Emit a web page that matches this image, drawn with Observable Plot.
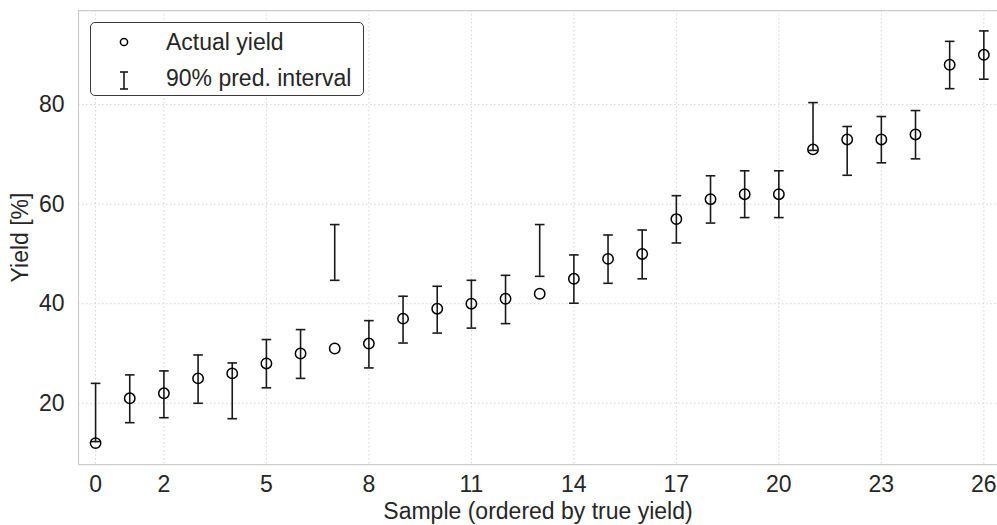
<!DOCTYPE html>
<html>
<head>
<meta charset="utf-8">
<script src="https://cdn.jsdelivr.net/npm/d3@7"></script>
<script src="https://cdn.jsdelivr.net/npm/@observablehq/plot@0.6"></script>
<style>
html, body { margin: 0; padding: 0; background: #fff; overflow: hidden; }
#wrap { position: relative; width: 997px; height: 525px; }
.legend { position: absolute; left: 90px; top: 22px; width: 272px; height: 72px;
  border: 1px solid #3a3a3a; border-radius: 5px; background: rgba(255,255,255,0.85);
  font-family: "Liberation Sans", Arial, sans-serif; font-size: 23px; color: #262626; }
.legend span { position: absolute; left: 75px; line-height: 26px; white-space: nowrap; }
.legend svg { position: absolute; left: 0; top: 0; }
</style>
</head>
<body>
<div id="wrap"></div>
<script>
// Sample index (ordered by true yield)
const sample = [0,1,2,3,4,5,6,7,8,9,10,11,12,13,14,15,16,17,18,19,20,21,22,23,24,25,26];
// Actual yield [%]
const actual = [12,21,22,25,26,28,30,31,32,37,39,40,41,42,45,49,50,57,61,62,62,71,73,73,74,88,90];
// 90% prediction interval bounds
const lower = [12.3,16.1,17.1,20.0,16.9,23.1,25.0,44.7,27.1,32.1,34.1,35.1,36.0,45.5,40.1,44.1,45.0,52.2,56.2,57.3,57.3,70.8,65.8,68.3,69.1,83.2,85.1];
const upper = [24.0,25.7,26.5,29.7,28.1,32.8,34.8,55.9,36.6,41.5,43.5,44.7,45.7,55.9,49.8,53.8,54.8,61.7,65.7,66.7,66.7,80.4,75.6,77.6,78.8,92.7,94.8];
// Tick values
const xTicks = [0,2,5,8,11,14,17,20,23,26];
const yTicks = [20,40,60,80];
const xDomain = [-0.5, 26.4];
const yDomain = [7.7, 98.9];

const data = sample.map((s, i) => ({s, a: actual[i], lo: lower[i], hi: upper[i]}));

const hline = { draw(ctx, size) { const r = Math.sqrt(size / Math.PI); ctx.moveTo(-r, 0); ctx.lineTo(r, 0); } };

const grid = {stroke: "#cfcfcf", strokeDasharray: "1.5,2.5", strokeWidth: 0.9};
const spine = {stroke: "#cccccc", strokeWidth: 1.25};
const bar = {stroke: "#1a1a1a", strokeWidth: 1.6};
const FONT = "'Liberation Sans', Arial, sans-serif";

const chart = Plot.plot({
  width: 997, height: 525,
  marginLeft: 78, marginRight: 0, marginTop: 10, marginBottom: 61,
  style: {fontFamily: FONT, fontSize: "23px", color: "#262626", background: "#fff"},
  x: {domain: xDomain, ticks: xTicks, tickSize: 0, tickPadding: 11, label: null},
  y: {domain: yDomain, ticks: yTicks, tickSize: 0, tickPadding: 14, label: null},
  marks: [
    Plot.ruleX(xTicks, grid),
    Plot.ruleY(yTicks, grid),
    Plot.ruleY([yDomain[0]], spine),
    Plot.ruleY([yDomain[1]], spine),
    Plot.ruleX([xDomain[0]], spine),
    Plot.ruleX(data, {x: "s", y1: "lo", y2: "hi", ...bar}),
    Plot.dot(data, {x: "s", y: "lo", symbol: hline, r: 4.8, fill: "none", ...bar}),
    Plot.dot(data, {x: "s", y: "hi", symbol: hline, r: 4.8, fill: "none", ...bar}),
    Plot.dot(data, {x: "s", y: "a", r: 5.2, stroke: "#000", strokeWidth: 1.5, fill: "none"}),
    Plot.text(["Sample (ordered by true yield)"], {frameAnchor: "bottom", dy: 54, text: d => d, fontSize: 23, fill: "#262626", textAnchor: "middle"}),
    Plot.text(["Yield [%]"], {frameAnchor: "left", dx: -58, rotate: -90, text: d => d, fontSize: 23, fill: "#262626", textAnchor: "middle"})
  ]
});

const wrap = document.getElementById("wrap");
wrap.appendChild(chart);

const legend = document.createElement("div");
legend.className = "legend";
legend.innerHTML = `
<svg width="272" height="72">
  <circle cx="33" cy="19" r="3.6" fill="none" stroke="#000" stroke-width="1.5"/>
  <line x1="33" x2="33" y1="49" y2="66" stroke="#1a1a1a" stroke-width="1.6"/>
  <line x1="29" x2="37" y1="49" y2="49" stroke="#1a1a1a" stroke-width="1.6"/>
  <line x1="29" x2="37" y1="66" y2="66" stroke="#1a1a1a" stroke-width="1.6"/>
</svg>
<span style="top:6px">Actual yield</span>
<span style="top:42px">90% pred. interval</span>`;
wrap.appendChild(legend);
</script>
</body>
</html>
